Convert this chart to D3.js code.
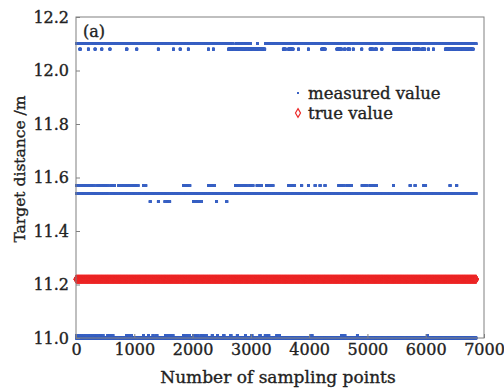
<!DOCTYPE html>
<meta charset="utf-8">
<style>
body { margin: 0; background: #fff; }
text { font-family: "DejaVu Serif", serif; fill: #222; stroke: #222; stroke-width: 0.35px; }
.axis line { stroke: #808080; }
.axis path { display: none; }
.frame { fill: none; stroke: #808080; stroke-width: 1; }
</style>
<svg width="504" height="389"></svg>
<script src="https://d3js.org/d3.v7.min.js"></script>
<script>

// sample-index runs, one array per distance level (m)
var sampleCount = 6870;
var run1210 = [[0,2700],[2740,3000],[3105,3120],[3245,5470],[5480,6870]];
var run1208 = [[60,80],[205,220],[320,335],[435,450],[575,590],[860,880],[1035,1050],
  [1405,1420],[1665,1680],[1780,1795],[1920,1935],[2265,2280],[2350,2365],[2610,3245],
  [3550,3600],[3640,3730],[3810,3825],[3980,3995],[4210,4280],[4470,4560],[4600,4620],
  [4660,4700],[4750,4765],[4895,4910],[5040,5100],[5130,5160],[5240,5255],[5440,5730],
  [5785,5900],[5930,5990],[6040,6055],[6125,6140],[6330,6820]];
var run1157 = [[0,320],[366,560],[600,669],[727,1071],[1150,1160],[1195,1205],[1840,1960],
  [2270,2385],[2728,2960],[2990,3043],[3100,3186],[3261,3386],[3643,3758],[3865,3880],
  [3980,3995],[4095,4110],[4180,4195],[4265,4280],[4502,4600],[4640,4731],[4902,5000],
  [5040,5160],[5440,5455],[5725,5740],[5810,5825],[5960,6006],[6410,6425],[6525,6540]];
var run1154 = [[0,580],[610,6870]];
var run1151 = [[1265,1280],[1405,1420],[1520,1535],[1565,1615],[2010,2160],[2405,2420],[2580,2595]];
var run1101 = [[0,470],[540,640],[860,960],[1150,1165],[1235,1250],[1315,1330],[1380,1395],
  [1530,1670],[1840,1950],[2010,2100],[2140,2240],[2330,2345],[2420,2435],[2530,2545],
  [2650,2665],[2760,2775],[2900,2915],[3010,3025],[3150,3165],[3240,3255],[3300,3315],
  [3440,3500],[4040,4055],[4550,4620],[4820,4835],[6020,6035]];
var run1100 = [[0,6870]];
var trueValue = 11.22;

var levels = [
  {y: 12.10, runs: run1210},
  {y: 12.08, runs: run1208},
  {y: 11.57, runs: run1157},
  {y: 11.54, runs: run1154},
  {y: 11.51, runs: run1151},
  {y: 11.01, runs: run1101},
  {y: 11.00, runs: run1100}
];

var xTicks = [0, 1000, 2000, 3000, 4000, 5000, 6000, 7000];
var yTicks = [11.0, 11.2, 11.4, 11.6, 11.8, 12.0, 12.2];

var svg = d3.select("svg"),
    margin = {top: 17, right: 20, bottom: 51, left: 76},
    width = +svg.attr("width") - margin.left - margin.right,
    height = +svg.attr("height") - margin.top - margin.bottom;

var g = svg.append("g").attr("transform", "translate(" + margin.left + "," + margin.top + ")");

var x = d3.scaleLinear().domain([0, 7000]).range([0, width]);
var y = d3.scaleLinear().domain([11.0, 12.2]).range([height, 0]);

// expand runs into points
var measured = [];
levels.forEach(function(l) {
  l.runs.forEach(function(r) {
    for (var i = r[0]; i <= r[1]; i++) measured.push([i, l.y]);
  });
});

var blue = "#3a62c4", red = "#ec2a2a";

g.append("g")
  .selectAll("rect")
  .data(measured)
  .enter().append("rect")
    .attr("x", function(d) { return x(d[0]) - 1; })
    .attr("y", function(d) { return y(d[1]) - 1.2; })
    .attr("width", 2)
    .attr("height", 2.4)
    .attr("fill", blue);

var trueData = d3.range(0, sampleCount + 1).map(function(i) { return [i, trueValue]; });
var diamond = d3.symbol().type(d3.symbolDiamond).size(12)();

g.append("g")
  .selectAll("path")
  .data(trueData)
  .enter().append("path")
    .attr("d", diamond)
    .attr("transform", function(d) { return "translate(" + x(d[0]) + "," + y(d[1]) + ")"; })
    .attr("fill", "none")
    .attr("stroke", red)
    .attr("stroke-width", 1.2);

g.append("rect").attr("class", "frame")
  .attr("width", width).attr("height", height);

g.append("g").attr("class", "axis")
  .call(d3.axisLeft(y).tickValues(yTicks).tickFormat(d3.format(".1f")).tickSize(-4).tickPadding(7))
  .selectAll("text").style("font-size", "16px").attr("fill", "#222");

g.append("g").attr("class", "axis")
  .attr("transform", "translate(0," + height + ")")
  .call(d3.axisBottom(x).tickValues(xTicks).tickFormat(d3.format("d")).tickSize(-4).tickPadding(6))
  .selectAll("text").style("font-size", "16px").attr("fill", "#222");

g.append("text")
  .attr("x", 7).attr("y", 20)
  .style("font-size", "16px")
  .text("(a)");

// legend
var lg = g.append("g").attr("transform", "translate(222,0)");
lg.append("rect").attr("x", -1).attr("y", 75).attr("width", 2).attr("height", 2).attr("fill", blue);
lg.append("text").attr("x", 10).attr("y", 82).style("font-size", "16.5px").text("measured value");
lg.append("path").attr("d", d3.symbol().type(d3.symbolDiamond).size(22)())
  .attr("transform", "translate(0,96)")
  .attr("fill", "none").attr("stroke", red).attr("stroke-width", 1.2);
lg.append("text").attr("x", 10).attr("y", 102).style("font-size", "16.5px").text("true value");

svg.append("text")
  .attr("transform", "translate(25," + (margin.top + 152) + ") rotate(-90)")
  .attr("text-anchor", "middle")
  .style("font-size", "15.5px")
  .text("Target distance /m");

svg.append("text")
  .attr("x", margin.left + width / 2 - 2)
  .attr("y", 383)
  .attr("text-anchor", "middle")
  .style("font-size", "17px")
  .text("Number of sampling points");

</script>
